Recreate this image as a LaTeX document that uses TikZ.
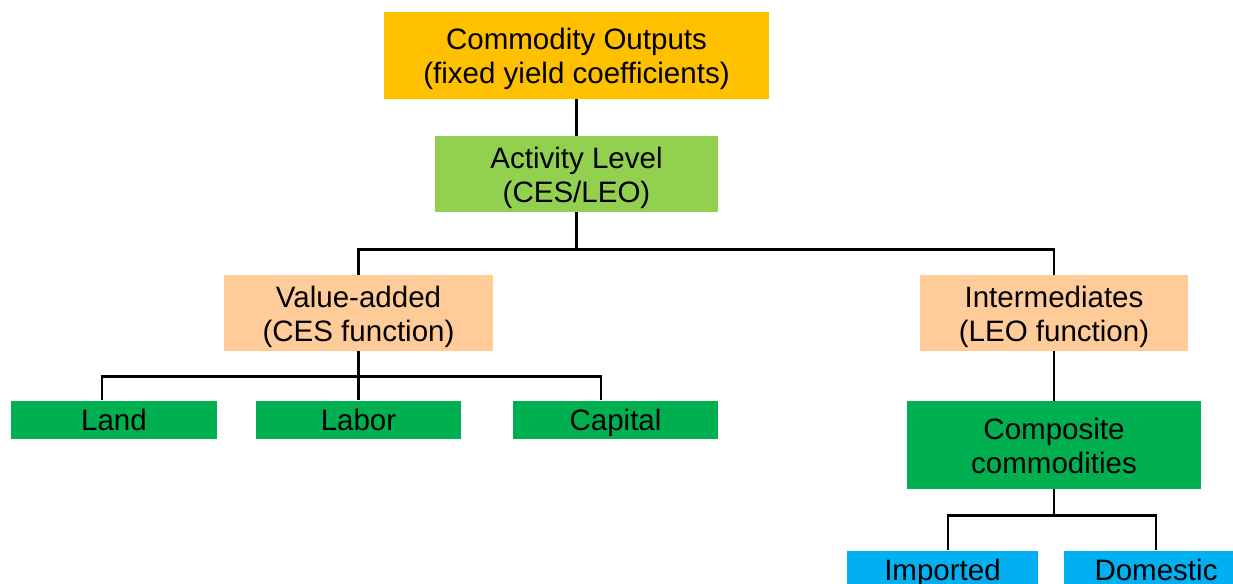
\documentclass[tikz,border=0pt]{standalone}
\usepackage{fontspec}
\setmainfont{Liberation Sans}

\definecolor{outorange}{HTML}{FFC000}
\definecolor{actgreen}{HTML}{92D050}
\definecolor{peach}{HTML}{FFCC99}
\definecolor{factgreen}{HTML}{00B050}
\definecolor{tradeblue}{HTML}{00B0F0}

% struts that keep the capitals centred in each box
\newcommand{\topstrut}{\rule[-5pt]{0pt}{22pt}}
\newcommand{\botstrut}{\rule[-5pt]{0pt}{5pt}}
% two centred lines, set a little lower in their box
\newcommand{\twolines}[2]{\raisebox{-2.5pt}[\height][\depth]{%
  \begin{tabular}{@{}c@{}}#1\\#2\end{tabular}}}

\begin{document}
\begin{tikzpicture}[
      x=0.02cm, y=-0.02cm,
      box_style/.style={rectangle, inner sep=0pt, align=center,
        font=\fontsize{16.8}{19.4}\selectfont,
        execute at begin node=\topstrut, execute at end node=\botstrut},
      link_style/.style={draw, black, line width=1.4pt}
  ]

      \clip (0,0) rectangle (1233,584);

      % top of the tree
      \node[box_style, fill=outorange, minimum width=7.7cm, minimum height=1.74cm]
        (out) at (576.5,55.5) {\twolines{Commodity Outputs}{(fixed yield coefficients)}};
      \node[box_style, fill=actgreen, minimum width=5.66cm, minimum height=1.52cm]
        (act) at (576.5,174) {\twolines{Activity Level}{(CES/LEO)}};

      % value added and intermediates
      \node[box_style, fill=peach, minimum width=5.4cm, minimum height=1.52cm]
        (va) at (358.5,313) {\twolines{Value-added}{(CES function)}};
      \node[box_style, fill=peach, minimum width=5.38cm, minimum height=1.52cm]
        (int) at (1054,313) {\twolines{Intermediates}{(LEO function)}};

      % primary factors
      \node[box_style, fill=factgreen, minimum width=4.12cm, minimum height=0.76cm]
        (land) at (114,420) {Land};
      \node[box_style, fill=factgreen, minimum width=4.12cm, minimum height=0.76cm]
        (labor) at (358.5,420) {Labor};
      \node[box_style, fill=factgreen, minimum width=4.12cm, minimum height=0.76cm]
        (capital) at (615.5,420) {Capital};

      % composite commodity split
      \node[box_style, fill=factgreen, minimum width=5.9cm, minimum height=1.76cm]
        (comp) at (1054,445) {\twolines{Composite}{commodities}};
      \node[box_style, fill=tradeblue, minimum width=3.82cm, minimum height=0.76cm]
        (imp) at (942.5,570) {Imported};
      \node[box_style, fill=tradeblue, minimum width=3.7cm, minimum height=0.76cm]
        (dom) at (1156,570) {Domestic};

      \draw[link_style] (out.south) -- (act.north);
      \draw[link_style] (act.south) -- ++(0,37) -| (va.north);
      \draw[link_style] (act.south) -- ++(0,37) -| (int.north);
      \draw[link_style] (va.south) -- (labor.north);
      \draw[link_style] (va.south) -- ++(0,25) -| ([xshift=-0.24cm]land.north);
      \draw[link_style] (va.south) -- ++(0,25) -| ([xshift=-0.29cm]capital.north);
      \draw[link_style] (int.south) -- (comp.north);
      \draw[link_style] (comp.south) -- ++(0,26) -| ([xshift=0.11cm]imp.north);
      \draw[link_style] (comp.south) -- ++(0,26) -| (dom.north);
  \end{tikzpicture}
\end{document}
